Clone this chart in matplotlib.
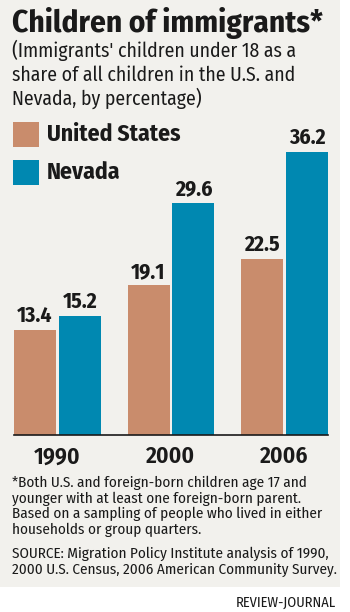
import matplotlib.pyplot as plt
import matplotlib.patches as mpatches
import numpy as np

years = ["1990", "2000", "2006"]
us_share = [13.4, 19.1, 22.5]
nv_share = [15.2, 29.6, 36.2]
series_names = ["United States", "Nevada"]

US_COLOR = "#c98c6c"
NV_COLOR = "#0088b1"
BG = "#f2f1ed"
INK = "#1a1a1a"
FONT = ["Fira Sans Condensed", "DejaVu Sans"]

W, H = 350, 612
fig = plt.figure(figsize=(W / 100, H / 100), dpi=100)
fig.patch.set_facecolor("white")


def fx(x):
    return x / W


def fy(y):
    return 1 - y / H


# gray panel behind everything except the credit line
fig.patches.append(mpatches.Rectangle((0, fy(587)), fx(340), 587 / H,
                                      transform=fig.transFigure, facecolor=BG,
                                      edgecolor="none", zorder=-5))

fig.text(fx(12), fy(32), "Children of immigrants*", family=FONT, weight="bold",
         fontsize=22.5, color=INK, va="baseline")
sub = ["(Immigrants' children under 18 as a",
       "share of all children in the U.S. and",
       "Nevada, by percentage)"]
for i, line in enumerate(sub):
    fig.text(fx(12), fy(57 + 24 * i), line, family=FONT, fontsize=14.2,
             color=INK, va="baseline")

# legend swatches
for i, (name, c) in enumerate(zip(series_names, [US_COLOR, NV_COLOR])):
    top = 122 + 38 * i
    fig.patches.append(mpatches.Rectangle((fx(13), fy(top + 25)), fx(26), 25 / H,
                                          transform=fig.transFigure, facecolor=c,
                                          edgecolor="none", zorder=1))
    fig.text(fx(47), fy(top + 12.5), name, family=FONT, weight="bold",
             fontsize=17, color=INK, va="center")

# bars
base_px, top_px = 435, 120
ax = fig.add_axes([fx(14), fy(base_px), fx(328 - 14), (base_px - top_px) / H])
ax.set_facecolor("none")
x = np.arange(len(years))
width = 0.37
off = 0.198
ax.bar(x - off, us_share, width, color=US_COLOR)
ax.bar(x + off, nv_share, width, color=NV_COLOR)
ax.set_xlim(-off - width / 2, 2 + off + width / 2)
ax.set_ylim(0, (base_px - top_px) / 7.83)
for xi, v in zip(x - off, us_share):
    ax.annotate(f"{v}", (xi, v), xytext=(0, 5.5), textcoords="offset points",
                ha="center", va="baseline", family=FONT, weight="bold",
                fontsize=15.5, color=INK)
for xi, v in zip(x + off, nv_share):
    ax.annotate(f"{v}", (xi, v), xytext=(0, 5.5), textcoords="offset points",
                ha="center", va="baseline", family=FONT, weight="bold",
                fontsize=15.5, color=INK)
for s in ["top", "right", "left"]:
    ax.spines[s].set_visible(False)
ax.spines["bottom"].set_linewidth(1.2)
ax.spines["bottom"].set_color(INK)
ax.set_yticks([])
ax.set_xticks([])
for xi, yr in zip(x, years):
    ax.annotate(yr, (xi, 0), xytext=(0, -20.5), textcoords="offset points",
                ha="center", va="baseline", family=FONT, weight="semibold",
                fontsize=17, color=INK)

notes = ["*Both U.S. and foreign-born children age 17 and",
         "younger with at least one foreign-born parent.",
         "Based on a sampling of people who lived in either",
         "households or group quarters."]
for i, line in enumerate(notes):
    fig.text(fx(12), fy(487 + 15.7 * i), line, family=FONT, fontsize=10.9,
             color=INK, va="baseline")
src = ["SOURCE: Migration Policy Institute analysis of 1990,",
       "2000 U.S. Census, 2006 American Community Survey."]
for i, line in enumerate(src):
    fig.text(fx(12), fy(558 + 16 * i), line, family=FONT, fontsize=10.9,
             color=INK, va="baseline")

fig.text(fx(336), fy(607), "REVIEW-JOURNAL", family=FONT, fontsize=10.3,
         color=INK, ha="right", va="baseline")

fig.savefig("out.png", dpi=100, facecolor=fig.get_facecolor())
